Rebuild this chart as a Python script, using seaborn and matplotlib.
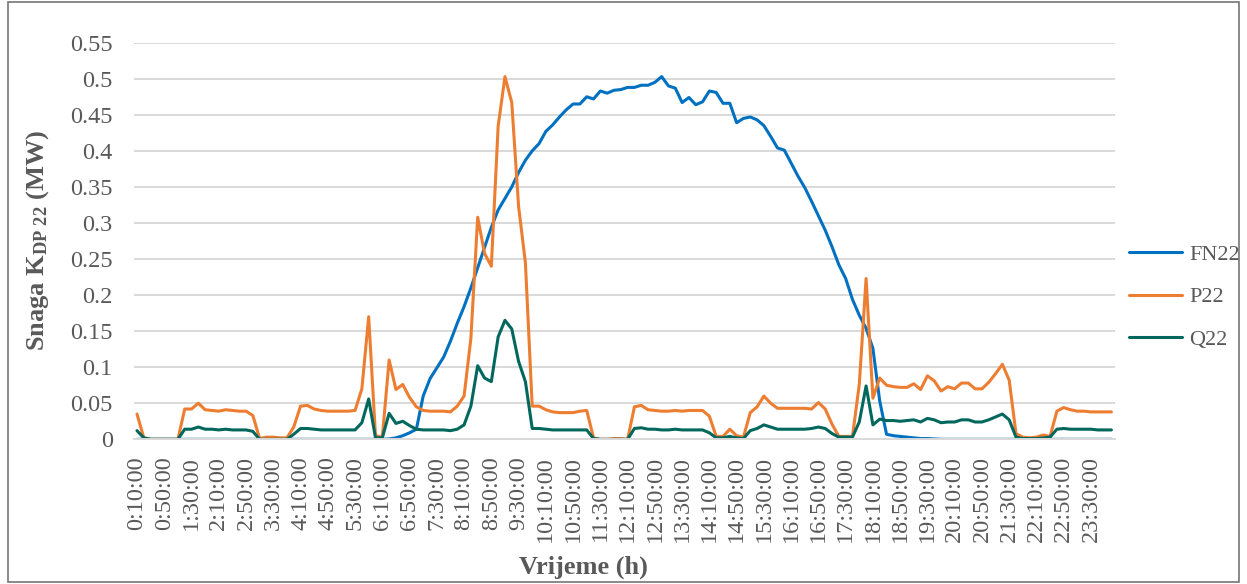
import matplotlib
matplotlib.use('Agg')
import matplotlib.pyplot as plt
import seaborn as sns
import pandas as pd
import numpy as np
from matplotlib.patches import Rectangle

# vrijeme: 0:10:00 ... 23:50:00, 0:00:00 (korak 10 min)
vrijeme = [f"{(m // 60) % 24}:{m % 60:02d}:00" for m in range(10, 1450, 10)]

fn22 = [0.0] * 37 + [
    0.0005, 0.002, 0.005, 0.009, 0.014, 0.060, 0.084, 0.099, 0.114, 0.136,
    0.161, 0.184, 0.210, 0.238, 0.266, 0.294, 0.318, 0.334, 0.350, 0.370,
    0.387, 0.400, 0.410, 0.427, 0.436, 0.447, 0.457, 0.465, 0.465, 0.475,
    0.472, 0.483, 0.480, 0.484, 0.485, 0.488, 0.488, 0.491, 0.491, 0.495,
    0.503, 0.490, 0.487, 0.467, 0.474, 0.464, 0.468, 0.483, 0.481, 0.466,
    0.466, 0.439, 0.445, 0.447, 0.443, 0.435, 0.420, 0.404, 0.401, 0.383,
    0.365, 0.349, 0.330, 0.310, 0.290, 0.267, 0.242, 0.223, 0.194, 0.172,
    0.154, 0.126, 0.053, 0.007, 0.005, 0.004, 0.003, 0.002, 0.001, 0.001,
    0.0005] + [0.0] * 26

p22 = [
    0.035, 0.002, 0.0, 0.0, 0.0, 0.0, 0.0, 0.042, 0.042, 0.050,
    0.041, 0.040, 0.039, 0.041, 0.040, 0.039, 0.039, 0.033, 0.001, 0.003,
    0.003, 0.002, 0.002, 0.017, 0.046, 0.047, 0.042, 0.040, 0.039, 0.039,
    0.039, 0.039, 0.040, 0.070, 0.170, 0.005, 0.003, 0.110, 0.069, 0.076,
    0.058, 0.045, 0.040, 0.039, 0.039, 0.039, 0.038, 0.046, 0.060, 0.140,
    0.308, 0.258, 0.240, 0.434, 0.503, 0.467, 0.323, 0.245, 0.046, 0.046,
    0.041, 0.038, 0.037, 0.037, 0.037, 0.039, 0.040, 0.002, 0.0, 0.0,
    0.001, 0.001, 0.0, 0.045, 0.047, 0.041, 0.040, 0.039, 0.039, 0.040,
    0.039, 0.040, 0.040, 0.040, 0.032, 0.004, 0.004, 0.014, 0.005, 0.003,
    0.037, 0.045, 0.060, 0.050, 0.043, 0.043, 0.043, 0.043, 0.043, 0.042,
    0.051, 0.042, 0.021, 0.004, 0.004, 0.004, 0.076, 0.223, 0.057, 0.085,
    0.075, 0.073, 0.072, 0.072, 0.077, 0.069, 0.088, 0.081, 0.067, 0.073,
    0.070, 0.078, 0.078, 0.070, 0.070, 0.079, 0.091, 0.104, 0.082, 0.008,
    0.003, 0.002, 0.003, 0.006, 0.004, 0.039, 0.044, 0.041, 0.039, 0.039,
    0.038, 0.038, 0.038, 0.038]

q22 = [
    0.012, 0.002, 0.0, 0.0, 0.0, 0.0, 0.0, 0.014, 0.014, 0.017,
    0.014, 0.014, 0.013, 0.014, 0.013, 0.013, 0.013, 0.011, 0.0, 0.0,
    0.0, 0.0, 0.0, 0.007, 0.015, 0.015, 0.014, 0.013, 0.013, 0.013,
    0.013, 0.013, 0.013, 0.023, 0.056, 0.002, 0.002, 0.036, 0.022, 0.025,
    0.019, 0.014, 0.013, 0.013, 0.013, 0.013, 0.012, 0.014, 0.020, 0.046,
    0.102, 0.085, 0.080, 0.142, 0.165, 0.153, 0.108, 0.080, 0.015, 0.015,
    0.014, 0.013, 0.013, 0.013, 0.013, 0.013, 0.013, 0.001, 0.0, 0.0,
    0.0, 0.0, 0.0, 0.015, 0.016, 0.014, 0.014, 0.013, 0.013, 0.014,
    0.013, 0.013, 0.013, 0.013, 0.009, 0.002, 0.002, 0.004, 0.002, 0.001,
    0.012, 0.015, 0.020, 0.017, 0.014, 0.014, 0.014, 0.014, 0.014, 0.015,
    0.017, 0.015, 0.008, 0.003, 0.003, 0.003, 0.024, 0.074, 0.020, 0.028,
    0.026, 0.026, 0.025, 0.026, 0.027, 0.024, 0.029, 0.027, 0.023, 0.024,
    0.024, 0.027, 0.027, 0.024, 0.024, 0.027, 0.031, 0.035, 0.027, 0.003,
    0.001, 0.001, 0.001, 0.002, 0.003, 0.014, 0.015, 0.014, 0.014, 0.014,
    0.014, 0.013, 0.013, 0.013]

boje = {'FN22': '#0070C0', 'P22': '#ED7D31', 'Q22': '#02675C'}

sns.set_style('white')
plt.rcParams['font.family'] = ['Liberation Serif', 'DejaVu Serif']
plt.rcParams['mathtext.fontset'] = 'custom'
plt.rcParams['mathtext.rm'] = 'Liberation Serif:bold'
plt.rcParams['mathtext.bf'] = 'Liberation Serif:bold'
plt.rcParams['mathtext.it'] = 'Liberation Serif:bold'

df = pd.DataFrame({'idx': np.arange(len(vrijeme)), 'FN22': fn22, 'P22': p22, 'Q22': q22})
df = df.melt(id_vars='idx', var_name='serija', value_name='snaga')

fig = plt.figure(figsize=(12.47, 5.84), dpi=100)
ax = fig.add_axes([133.6 / 1247, 1 - 439.3 / 584, (1114.8 - 133.6) / 1247, (439.3 - 42.7) / 584])

sns.lineplot(data=df, x='idx', y='snaga', hue='serija', palette=boje,
             linewidth=2.2, ax=ax, legend=False)

siva = '#595959'
ax.set_xlim(-0.5, len(vrijeme) - 0.5)
ax.set_ylim(0, 0.55)
yt = np.round(np.arange(0, 0.551, 0.05), 2)
ax.set_yticks(yt)
ax.set_yticklabels([f"{v:g}" for v in yt])
ax.set_xticks(range(0, len(vrijeme), 4))
ax.set_xticklabels(vrijeme[::4], rotation=90)
ax.tick_params(axis='both', length=0, labelsize=17.5, colors=siva)
ax.tick_params(axis='y', pad=15)
ax.tick_params(axis='x', pad=12)
ax.grid(axis='y', color='#D9D9D9', linewidth=1.4)
ax.grid(axis='x', visible=False)
for s in ['top', 'right', 'left']:
    ax.spines[s].set_visible(False)
ax.spines['bottom'].set_color('#D9D9D9')
ax.spines['bottom'].set_linewidth(1.4)
ax.set_xlabel('')
ax.set_ylabel('')

fig.text(38 / 1247, 1 - 240 / 584, r'Snaga K$_{\mathrm{DP\ 22}}$ (MW)', rotation=90,
         ha='center', va='center', fontsize=19, fontweight='bold', color=siva)
fig.text(583 / 1247, 1 - 567 / 584, 'Vrijeme (h)', ha='center', va='center',
         fontsize=19, fontweight='bold', color=siva)

fig.legend(handles=ax.get_lines()[:3], labels=['FN22', 'P22', 'Q22'],
           loc='center left', bbox_to_anchor=(1129 / 1247, 1 - 297 / 584),
           frameon=False, fontsize=16, labelcolor=siva, handlelength=2.4,
           handletextpad=0.3, labelspacing=1.0, borderpad=0, borderaxespad=0)

fig.patches.append(Rectangle((8 / 1247, 0.004), 1 - 16 / 1247, 0.992, transform=fig.transFigure,
                             fill=False, edgecolor='#767676', linewidth=1.2))

fig.savefig('out.png', dpi=100)
